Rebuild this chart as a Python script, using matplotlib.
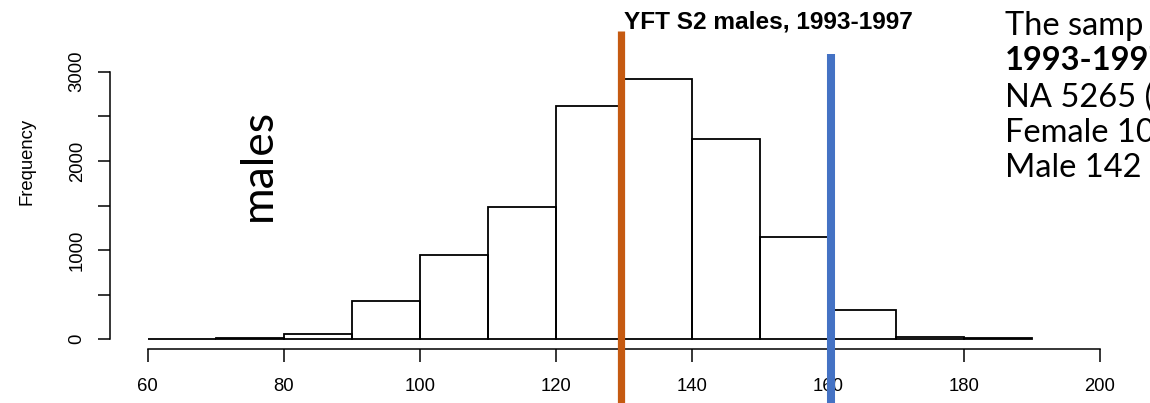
import matplotlib
matplotlib.use("Agg")
import matplotlib.pyplot as plt
import numpy as np

# ---- data ----
bin_edges = [60, 70, 80, 90, 100, 110, 120, 130, 140, 150, 160, 170, 180, 190]
counts = [8, 10, 59, 433, 942, 1480, 2619, 2916, 2249, 1150, 328, 29, 12]
orange_x = 129.6
blue_x = 160.5
x_ticks = [60, 80, 100, 120, 140, 160, 180, 200]
y_ticks = [0, 500, 1000, 1500, 2000, 2500, 3000]
y_labels = ["0", "", "1000", "", "2000", "", "3000"]
title = "YFT S2 males, 1993-1997"
side_label = "males"
note_lines = ["The samp", "1993-1997", "NA 5265 (", "Female 10", "Male 142"]

W, H = 1150, 403
fig = plt.figure(figsize=(W / 100, H / 100), dpi=100)
ax = fig.add_axes([0, 0, 1, 1])

# pixel mapping (from reference)
px_per_x = 6.804
x0_px = 147.5            # x=60
y0_px = 339.3            # count 0 (from top)
px_per_y = 267.6 / 3000  # px per count

xlim_lo = 60 - x0_px / px_per_x
xlim_hi = 60 + (W - x0_px) / px_per_x
ylim_hi = (y0_px) / px_per_y
ylim_lo = -(H - y0_px) / px_per_y
ax.set_xlim(xlim_lo, xlim_hi)
ax.set_ylim(ylim_lo, ylim_hi)

def ydata(p_from_top):
    return (y0_px - p_from_top) / px_per_y

def xdata(p):
    return 60 + (p - x0_px) / px_per_x

# histogram bars
lefts = bin_edges[:-1]
widths = np.diff(bin_edges)
ax.bar(lefts, counts, width=widths, align="edge", fill=False,
       edgecolor="black", linewidth=1.3, zorder=2)

# vertical reference lines
ax.vlines(orange_x, ylim_lo, ydata(31), colors="#C55A11", linewidth=5.2, zorder=3, clip_on=False)
ax.vlines(blue_x, ylim_lo, ydata(54), colors="#4472C4", linewidth=5.8, zorder=3, clip_on=False)

# axes in R style
for s in ["top", "right"]:
    ax.spines[s].set_visible(False)
ax.spines["left"].set_position(("data", xdata(110)))
ax.spines["left"].set_bounds(0, 3000)
ax.spines["bottom"].set_position(("data", ydata(349)))
ax.spines["bottom"].set_bounds(60, 200)
ax.spines["left"].set_linewidth(1.1)
ax.spines["bottom"].set_linewidth(1.1)

ax.set_xticks(x_ticks)
ax.set_xticklabels([str(v) for v in x_ticks])
ax.set_yticks(y_ticks)
ax.set_yticklabels(y_labels)
ax.tick_params(axis="both", direction="out", length=9, width=1.1, labelsize=13.3)
ax.tick_params(axis="x", pad=12)
ax.tick_params(axis="y", pad=8.5)
for lab in ax.get_xticklabels() + ax.get_yticklabels():
    lab.set_fontfamily("Liberation Sans")
for lab in ax.get_yticklabels():
    lab.set_rotation(90)
    lab.set_verticalalignment("center")

ax.set_ylabel("Frequency", fontsize=13.3, fontfamily="Liberation Sans")
ax.yaxis.set_label_coords(27 / W, 1 - 161 / H)
ax.yaxis.label.set_verticalalignment("center")

# title
fig.text(768.5 / W, 1 - 22 / H, title, ha="center", va="center",
         fontsize=17.6, fontweight="bold", fontfamily="Liberation Sans")

# rotated "males"
fig.text(258.5 / W, 1 - 165 / H, side_label, rotation=90, ha="center", va="center",
         fontsize=32, fontfamily="Lato")

# right-hand note (cut by the figure edge, as in the reference)
baselines = [35, 70, 107, 142, 177]
for i, (txt, b) in enumerate(zip(note_lines, baselines)):
    fig.text(1005 / W, 1 - b / H, txt, ha="left", va="baseline",
             fontsize=23.5, fontfamily="Lato",
             fontweight="bold" if i == 1 else "normal")

fig.savefig("out.png", dpi=100)
